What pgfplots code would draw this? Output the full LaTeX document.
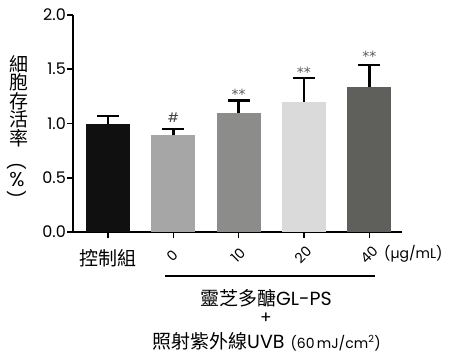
\documentclass[border=0pt]{standalone}
\usepackage{fontspec}
\setmainfont{Poppins}
\newfontfamily\cjk{Noto Sans CJK TC}
\newfontfamily\dv{DejaVu Sans}
\usepackage{pgfplots}
\pgfplotsset{compat=1.18}
\definecolor{c1}{HTML}{101010}
\definecolor{c2}{HTML}{A6A6A6}
\definecolor{c3}{HTML}{8C8C8A}
\definecolor{c4}{HTML}{DADADA}
\definecolor{c5}{HTML}{5F5F5C}
\pgfplotsset{
  mybar/.style={fill=#1, draw=none, bar width=44pt, bar shift=0pt,
    error bars/.cd, y dir=plus, y explicit,
    error bar style={line width=2.6pt, black},
    error mark options={rotate=90, line width=2.6pt, mark size=11pt, black}}
}
\begin{document}
\begin{tikzpicture}[x=1pt,y=1pt]
\path[use as bounding box] (0,0) rectangle (450,360);
\begin{axis}[
  at={(73pt,128pt)}, anchor=south west,
  scale only axis, width=329pt, height=217pt,
  ybar, clip=false,
  xmin=-0.535, xmax=4.5, ymin=0, ymax=2,
  axis lines*=left,
  axis line style={line width=1.6pt},
  ytick={0,0.5,1,1.5,2},
  yticklabel style={/pgf/number format/fixed, /pgf/number format/fixed zerofill, /pgf/number format/precision=1, /pgf/number format/assume math mode=true,
    font=\fontsize{16}{16}\selectfont, inner sep=1pt},
  xtick={0,1,2,3,4}, xticklabels={},
  tick align=outside, major tick length=6pt,
  tick style={line width=1.6pt, black},
]
\addplot+[mybar=c1] coordinates {(0,1.00) +- (0,0.07)};
\addplot+[mybar=c2] coordinates {(1,0.89) +- (0,0.06)};
\addplot+[mybar=c3] coordinates {(2,1.10) +- (0,0.11)};
\addplot+[mybar=c4] coordinates {(3,1.20) +- (0,0.22)};
\addplot+[mybar=c5] coordinates {(4,1.34) +- (0,0.20)};
\node[font=\fontsize{13}{13}\selectfont, text=black!75] at (axis cs:1,1.05) {\#};
\node[font=\dv\fontsize{14}{14}\selectfont, text=black!65, inner sep=0pt] at (axis cs:2,1.27) {**};
\node[font=\dv\fontsize{14}{14}\selectfont, text=black!65, inner sep=0pt] at (axis cs:3,1.475) {**};
\node[font=\dv\fontsize{14}{14}\selectfont, text=black!65, inner sep=0pt] at (axis cs:4,1.615) {**};
\end{axis}
% y label
\node[font=\cjk\fontsize{19}{19}\selectfont, align=center, inner sep=0pt] at (19,259) {細\\[-0.5pt]胞\\[-0.5pt]存\\[-0.5pt]活\\[-0.5pt]率};
\node[font=\fontsize{17}{17}\selectfont, rotate=-90, inner sep=0pt] at (17,194) {(};
\node[font=\fontsize{20}{20}\selectfont, inner sep=0pt] at (17,180) {\%};
\node[font=\fontsize{17}{17}\selectfont, rotate=-90, inner sep=0pt] at (17,166) {)};
% x labels
\node[font=\cjk\fontsize{19}{19}\selectfont] at (108,102) {控制組};
\node[font=\fontsize{14}{14}\selectfont, rotate=45, inner sep=0pt] at (172,104) {0};
\node[font=\fontsize{14}{14}\selectfont, rotate=45, inner sep=0pt] at (238,105) {10};
\node[font=\fontsize{14}{14}\selectfont, rotate=45, inner sep=0pt] at (303,105) {20};
\node[font=\fontsize{14}{14}\selectfont, rotate=45, inner sep=0pt] at (369,105) {40};
\node[font=\fontsize{14}{14}\selectfont, anchor=west, inner sep=0pt] at (384,106) {(µg/mL)};
\draw[line width=2.4pt] (165,84) -- (375,84);
\node[font=\fontsize{19}{19}\selectfont] at (266,62) {{\cjk 靈芝多醣}GL-PS};
\node[font=\fontsize{17}{17}\selectfont] at (266,42) {+};
\node[font=\fontsize{19}{19}\selectfont, anchor=base west, inner sep=0pt] at (152,12) {{\cjk 照射紫外線}UVB\hspace{6pt}{\fontsize{14}{14}\selectfont (60\,mJ/cm\textsuperscript{2})}};
\end{tikzpicture}
\end{document}
